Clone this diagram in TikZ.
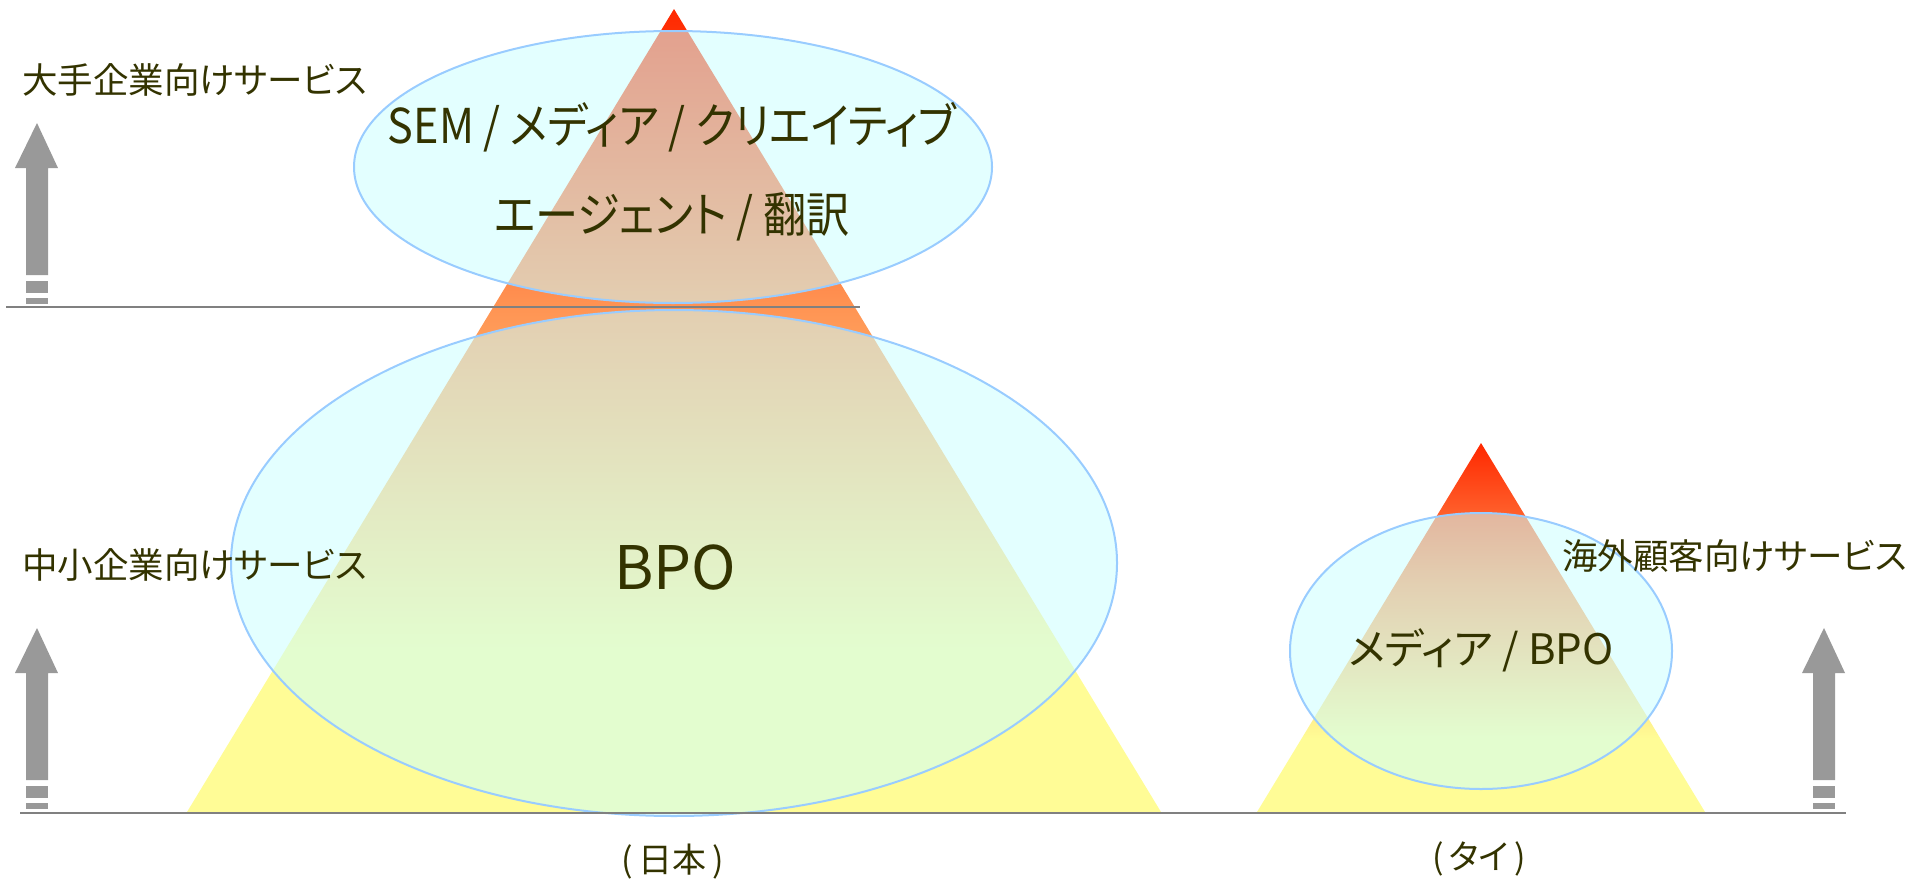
\documentclass[tikz,border=0pt]{standalone}
\usepackage{fontspec}
\newfontfamily\jp[RawFeature=+palt]{Noto Sans CJK JP}
\definecolor{txt}{RGB}{51,51,0}
\definecolor{ellfill}{RGB}{204,255,255}
\definecolor{elldraw}{RGB}{153,204,255}
\definecolor{arrowgray}{RGB}{153,153,153}
\definecolor{linegray}{RGB}{128,128,128}
\definecolor{pyrred}{RGB}{255,40,0}
\definecolor{pyrorange}{RGB}{255,150,85}
\definecolor{pyryellow}{RGB}{255,252,150}
\pgfdeclareverticalshading{pyramidshade}{100bp}{color(0bp)=(pyryellow); color(25bp)=(pyryellow); color(35bp)=(pyryellow); color(56bp)=(pyrorange); color(75bp)=(pyrred); color(100bp)=(pyrred)}
\tikzset{
  pyr/.style={shading=pyramidshade},
  ell/.style={fill=ellfill, fill opacity=0.55, draw=elldraw, line width=2pt},
  arrowfill/.style={fill=arrowgray},
  hline/.style={draw=linegray, line width=2.5pt},
  lbl/.style={inner sep=0pt, text=txt, font=\jp\fontsize{35.5}{40}\selectfont},
  toplbl/.style={lbl, font=\jp\fontsize{48}{52}\selectfont, xscale=0.9},
}
\begin{document}
\begin{tikzpicture}[x=1pt,y=-1pt]
\useasboundingbox (0,0) rectangle (1926,878);
% pyramids
\shade[pyr] (674,9) coordinate (japex) -- (187,812) coordinate (jleft) -- (1161,812) coordinate (jright) -- cycle;
\shade[pyr] (1481,443) coordinate (tapex) -- (1257,812) coordinate (tleft) -- (1705,812) coordinate (tright) -- cycle;
% ellipses
\draw[ell] (673,167) ellipse [x radius=319, y radius=136];
\draw[ell] (674,563) ellipse [x radius=443, y radius=253];
\draw[ell] (1481,651) ellipse [x radius=191, y radius=138];
% lines
\coordinate (l1a) at (6,307); \coordinate (l1b) at (860,307);
\coordinate (l2a) at (20,813); \coordinate (l2b) at (1846,813);
\draw[hline] (l1a) -- (l1b);
\draw[hline] (l2a) -- (l2b);
% arrows
\foreach \dx/\dy in {0/0, 0/505, 1787/505}{
  \begin{scope}[shift={(\dx,\dy)}]
    \fill[arrowfill] (37,123) -- (58,168) -- (48,168) -- (48,275) -- (26,275) -- (26,168) -- (15,168) -- cycle;
    \fill[arrowfill] (26,281) rectangle (48,293);
    \fill[arrowfill] (26,298) rectangle (48,304);
  \end{scope}
}
% labels
\node[lbl, anchor=west] (bigco) at (22,80) {大手企業向けサービス};
\node[lbl, anchor=west] (smallco) at (22,565) {中小企業向けサービス};
\node[lbl, anchor=west] (overseas) at (1562,556) {海外顧客向けサービス};
\node[toplbl] (top1) at (672,127) {SEM / メディア / クリエイティブ};
\node[toplbl] (top2) at (672,217) {エージェント / 翻訳};
\node[lbl, font=\jp\fontsize{60}{64}\selectfont] (bpo) at (675,568) {BPO};
\node[lbl, font=\jp\fontsize{42}{46}\selectfont] (thai) at (1481,650) {メディア / BPO};
\node[lbl, font=\jp\fontsize{34}{38}\selectfont] (jp) at (673,862) {(\,日本\,)};
\node[lbl, font=\jp\fontsize{34}{38}\selectfont] (th) at (1479,859) {(\,タイ\,)};
\end{tikzpicture}
\end{document}
